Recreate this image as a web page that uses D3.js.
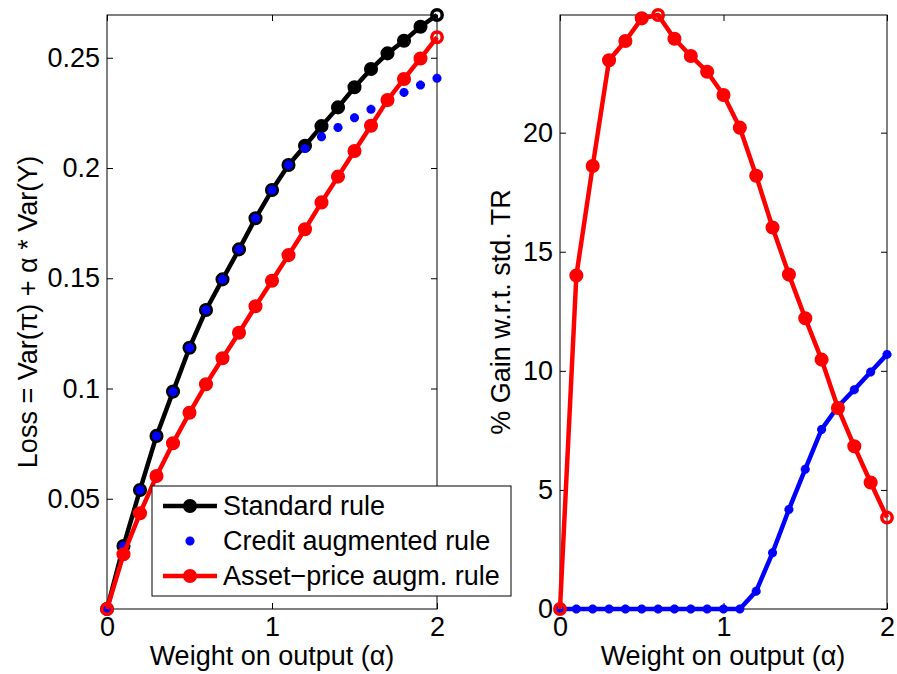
<!DOCTYPE html>
<html>
<head>
<meta charset="utf-8">
<script src="https://cdn.jsdelivr.net/npm/d3@7"></script>
<style>
  body { margin: 0; background: #fff; }
  text { font-family: "Liberation Sans", Arial, sans-serif; fill: #000; }
</style>
</head>
<body>
<div id="chart"></div>
<script>
// weight on output (alpha) grid
var alpha = [0, 0.1, 0.2, 0.3, 0.4, 0.5, 0.6, 0.7, 0.8, 0.9, 1.0,
             1.1, 1.2, 1.3, 1.4, 1.5, 1.6, 1.7, 1.8, 1.9, 2.0];

// left panel: loss values
var lossStandard = [0, 0.0286, 0.054, 0.0785, 0.0986, 0.1185, 0.1356, 0.1495, 0.1631, 0.1772, 0.190,
                    0.2014, 0.2101, 0.219, 0.2275, 0.2366, 0.2449, 0.252, 0.2577, 0.2641, 0.2694];
var lossCredit   = [0, 0.0286, 0.054, 0.0785, 0.0986, 0.1185, 0.1356, 0.1495, 0.1631, 0.1772, 0.190,
                    0.2014, 0.2088, 0.2142, 0.2184, 0.2228, 0.2266, 0.2304, 0.2343, 0.2376, 0.2407];
var lossAsset    = [0, 0.0248, 0.0434, 0.0603, 0.0752, 0.089, 0.1019, 0.1137, 0.1253, 0.1373, 0.1489,
                    0.1605, 0.1722, 0.1844, 0.1961, 0.2077, 0.2192, 0.2308, 0.2404, 0.2497, 0.2593];

// right panel: % gain w.r.t. standard rule
var gainCredit = [0, 0, 0, 0, 0, 0, 0, 0, 0, 0, 0,
                  0, 0.75, 2.36, 4.18, 5.87, 7.54, 8.5, 9.21, 9.95, 10.69];
var gainAsset  = [0, 14.0, 18.6, 23.04, 23.85, 24.8, 24.94, 23.94, 23.22, 22.56, 21.58,
                  20.21, 18.19, 16.02, 14.04, 12.21, 10.47, 8.44, 6.83, 5.31, 3.84];

var xTicks = [0, 1, 2];
var lossTicks = [0.05, 0.1, 0.15, 0.2, 0.25];
var gainTicks = [0, 5, 10, 15, 20];
var legendLabels = ["Standard rule", "Credit augmented rule", "Asset\u2212price augm. rule"];

var W = 897, H = 674, FS = 27;

var svg = d3.select("#chart").append("svg")
    .attr("width", W).attr("height", H);

// MATLAB-ish '*' marker: plus and cross overlaid
function starPath(s) {
  var d = s * 0.7;
  return "M" + (-s) + ",0L" + s + ",0M0," + (-s) + "L0," + s +
         "M" + (-d) + "," + (-d) + "L" + d + "," + d +
         "M" + (-d) + "," + d + "L" + d + "," + (-d);
}

function zip(ys) {
  return alpha.map(function(a, i) { return {a: a, v: ys[i]}; });
}

// draws one panel; returns the scales
function panel(left, right, top, bottom, yMax, yTicks, yFmt) {
  var x = d3.scaleLinear().domain([0, 2]).range([left, right]);
  var y = d3.scaleLinear().domain([0, yMax]).range([bottom, top]);
  var g = svg.append("g");

  g.append("g")
    .attr("transform", "translate(0," + bottom + ")")
    .call(d3.axisBottom(x).tickValues(xTicks).tickSize(-6).tickPadding(8).tickFormat(d3.format("d")));
  g.append("g")
    .attr("transform", "translate(0," + top + ")")
    .call(d3.axisTop(x).tickValues(xTicks).tickSize(-6).tickFormat(""));
  g.append("g")
    .attr("transform", "translate(" + left + ",0)")
    .call(d3.axisLeft(y).tickValues(yTicks).tickSize(-6).tickPadding(7).tickFormat(yFmt));
  g.append("g")
    .attr("transform", "translate(" + right + ",0)")
    .call(d3.axisRight(y).tickValues(yTicks).tickSize(-6).tickFormat(""));

  g.selectAll(".domain").remove();
  g.selectAll(".tick line").attr("stroke", "#000");
  g.selectAll(".tick text").style("font-size", FS + "px").style("font-family", null);

  g.append("rect")
    .attr("x", left).attr("y", top)
    .attr("width", right - left).attr("height", bottom - top)
    .attr("fill", "none").attr("stroke", "#000").attr("stroke-width", 1);

  return {x: x, y: y, yMax: yMax};
}

function onEdge(p, d) {
  return d.a === 0 || d.a === 2 || d.v === p.yMax;
}

function drawLine(p, pts, color) {
  var line = d3.line().x(function(d) { return p.x(d.a); }).y(function(d) { return p.y(d.v); });
  svg.append("path").datum(pts)
    .attr("d", line)
    .attr("fill", "none").attr("stroke", color)
    .attr("stroke-width", 4.5).attr("stroke-linejoin", "round");
}

function drawCircles(p, pts, color) {
  // markers sitting on the box edge come out hollow in the original
  svg.append("g").selectAll("circle").data(pts).enter().append("circle")
    .attr("cx", function(d) { return p.x(d.a); })
    .attr("cy", function(d) { return p.y(d.v); })
    .attr("r", function(d) { return onEdge(p, d) ? 5.2 : 6.3; })
    .attr("fill", function(d) { return onEdge(p, d) ? "none" : color; })
    .attr("stroke", color)
    .attr("stroke-width", function(d) { return onEdge(p, d) ? 3.5 : 1.5; });
}

function drawStars(p, pts, color) {
  svg.append("g").selectAll("path").data(pts).enter().append("path")
    .attr("transform", function(d) { return "translate(" + p.x(d.a) + "," + p.y(d.v) + ")"; })
    .attr("d", starPath(4.5))
    .attr("fill", "none").attr("stroke", color).attr("stroke-width", 3);
}

// ---------- left panel ----------
var pL = panel(107, 437, 15, 609, d3.max(lossStandard), lossTicks, function(d) { return String(d); });
drawLine(pL, zip(lossStandard), "#000");
drawCircles(pL, zip(lossStandard), "#000");
drawStars(pL, zip(lossCredit), "#0000ff");
drawLine(pL, zip(lossAsset), "#ff0000");
drawCircles(pL, zip(lossAsset), "#ff0000");

svg.append("text")
  .attr("transform", "translate(37,312) rotate(-90)")
  .attr("text-anchor", "middle")
  .style("font-size", FS + "px")
  .text("Loss = Var(\u03c0) + \u03b1 * Var(Y)");
svg.append("text")
  .attr("x", 272).attr("y", 665)
  .attr("text-anchor", "middle")
  .style("font-size", FS + "px")
  .text("Weight on output (\u03b1)");

// legend
var leg = svg.append("g");
leg.append("rect")
  .attr("x", 152).attr("y", 486).attr("width", 359).attr("height", 110)
  .attr("fill", "#fff").attr("stroke", "#000").attr("stroke-width", 1);
var rowY = [506, 541, 576];
var legColors = ["#000", "#0000ff", "#ff0000"];
legendLabels.forEach(function(lab, i) {
  if (i !== 1) {
    leg.append("line")
      .attr("x1", 163).attr("x2", 217).attr("y1", rowY[i]).attr("y2", rowY[i])
      .attr("stroke", legColors[i]).attr("stroke-width", 4.5);
    leg.append("circle")
      .attr("cx", 190).attr("cy", rowY[i]).attr("r", 6.3)
      .attr("fill", legColors[i]).attr("stroke", legColors[i]).attr("stroke-width", 1.5);
  } else {
    leg.append("path")
      .attr("transform", "translate(190," + rowY[i] + ")")
      .attr("d", starPath(4.5))
      .attr("fill", "none").attr("stroke", legColors[i]).attr("stroke-width", 3);
  }
  leg.append("text")
    .attr("x", 223).attr("y", rowY[i]).attr("dy", "0.35em")
    .style("font-size", FS + "px")
    .text(lab);
});

// ---------- right panel ----------
var pR = panel(560, 887, 15, 609, d3.max(gainAsset), gainTicks, d3.format("d"));
drawLine(pR, zip(gainCredit), "#0000ff");
drawStars(pR, zip(gainCredit), "#0000ff");
drawLine(pR, zip(gainAsset), "#ff0000");
drawCircles(pR, zip(gainAsset), "#ff0000");

svg.append("text")
  .attr("transform", "translate(510,312) rotate(-90)")
  .attr("text-anchor", "middle")
  .style("font-size", FS + "px")
  .text("% Gain w.r.t. std. TR");
svg.append("text")
  .attr("x", 723).attr("y", 665)
  .attr("text-anchor", "middle")
  .style("font-size", FS + "px")
  .text("Weight on output (\u03b1)");
</script>
</body>
</html>
